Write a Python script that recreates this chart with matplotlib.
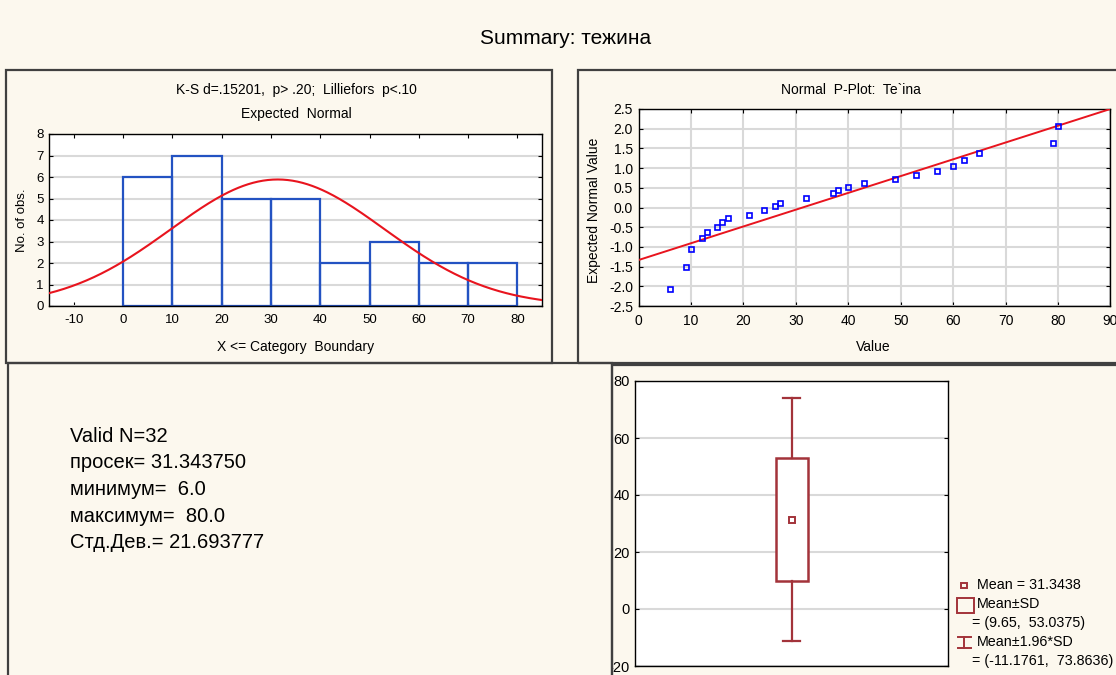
import numpy as np
import matplotlib
matplotlib.use("Agg")
import matplotlib.pyplot as plt
from matplotlib.patches import Rectangle

plt.rcParams['font.family'] = ['Liberation Sans', 'DejaVu Sans']
plt.rcParams['axes.unicode_minus'] = False

# ---------------- data ----------------
bin_left = [0, 10, 20, 30, 40, 50, 60, 70]
bin_counts = [6, 7, 5, 5, 2, 3, 2, 2]
hist_xticks = [-10, 0, 10, 20, 30, 40, 50, 60, 70, 80]

n_valid = 32
mean_val = 31.34375
sd_val = 21.693777
min_val = 6.0
max_val = 80.0

pp_values = [6, 9, 10, 12, 13, 15, 16, 17, 21, 24, 26, 27, 32, 37, 38, 40, 43,
             49, 53, 57, 60, 62, 65, 79, 80]
pp_expected = [-2.067, -1.507, -1.065, -0.769, -0.620, -0.485, -0.357, -0.275,
               -0.195, -0.072, 0.039, 0.117, 0.235, 0.357, 0.441, 0.529, 0.621,
               0.717, 0.823, 0.937, 1.065, 1.215, 1.395, 1.642, 2.067]
pp_line_intercept = -1.333
pp_line_slope = 0.0426

box_low, box_high = 9.65, 53.0375
whisk_low, whisk_high = -11.1761, 73.8636
box_yticks = [-20, 0, 20, 40, 60, 80]

W, H = 1116, 675
BG = '#FCF8EE'
BORDER = '#404040'
GRID = '#D9D9D9'
BLUE_BAR = '#2352C2'
RED = '#E8141E'
BOXC = '#A3333A'

fig = plt.figure(figsize=(W / 100, H / 100), dpi=100, facecolor=BG)


def fx(x):
    return x / W


def fy(y):
    return 1 - y / H


def ax_rect(l, t, r, b):
    return [fx(l), fy(b), (r - l) / W, (b - t) / H]


def panel(l, t, r, b, lw=1.6):
    p = Rectangle((fx(l), fy(b)), (r - l) / W, (b - t) / H, transform=fig.transFigure,
                  fill=False, edgecolor=BORDER, linewidth=lw, zorder=0.5)
    fig.patches.append(p)
    return p


# main title
fig.text(fx(566), fy(39), 'Summary: тежина', ha='center', va='center', fontsize=15)

# panels
panel(5.5, 70, 551.8, 362.7)
panel(577.5, 70, 1130, 362.7)
panel(8, 362.7, 612, 690)
p4 = panel(612, 364.5, 1130, 690)


def style_axes(ax):
    ax.set_facecolor('white')
    for s in ax.spines.values():
        s.set_color('black')
        s.set_linewidth(1.0)
    ax.tick_params(direction='in', length=3, width=0.8, top=True, right=True,
                   labelsize=10, colors='black', pad=4)
    ax.set_axisbelow(True)


# ---------------- histogram ----------------
ax1 = fig.add_axes(ax_rect(49.3, 134, 542.1, 306))
style_axes(ax1)
ax1.tick_params(labelsize=9.5)
ax1.bar(bin_left, bin_counts, width=10, align='edge', fill=False,
        edgecolor=BLUE_BAR, linewidth=1.6, zorder=2)
xs = np.linspace(-15, 85, 400)
ys = n_valid * 10 * np.exp(-0.5 * ((xs - mean_val) / sd_val) ** 2) / (sd_val * np.sqrt(2 * np.pi))
ax1.plot(xs, ys, color=RED, linewidth=1.5, zorder=3)
ax1.set_xlim(-15, 85)
ax1.set_ylim(0, 8)
ax1.set_xticks(hist_xticks)
ax1.set_yticks(range(0, 9))
ax1.yaxis.grid(True, color=GRID, linewidth=1.5)
ax1.tick_params(axis='x', pad=6)
fig.text(fx(296), fy(90), 'K-S d=.15201,  p> .20;  Lilliefors  p<.10', ha='center', va='center', fontsize=10)
fig.text(fx(296), fy(114), 'Expected  Normal', ha='center', va='center', fontsize=10)
fig.text(fx(296), fy(347), 'X <= Category  Boundary', ha='center', va='center', fontsize=10)
fig.text(fx(22), fy(220), 'No. of obs.', ha='center', va='center', rotation=90, fontsize=9.5)

# ---------------- normal P-plot ----------------
ax2 = fig.add_axes(ax_rect(638.6, 109, 1110.4, 306))
style_axes(ax2)
ax2.set_xlim(0, 90)
ax2.set_ylim(-2.5, 2.5)
ax2.set_xticks(range(0, 91, 10))
pp_yt = [-2.5, -2.0, -1.5, -1.0, -0.5, 0.0, 0.5, 1.0, 1.5, 2.0, 2.5]
ax2.set_yticks(pp_yt)
ax2.set_yticklabels(['%.1f' % v for v in pp_yt])
ax2.grid(True, color=GRID, linewidth=1.5)
ax2.tick_params(axis='x', pad=6)
lx = np.array([0, 90])
ax2.plot(lx, pp_line_intercept + pp_line_slope * lx, color=RED, linewidth=1.4, zorder=3)
ax2.plot(pp_values, pp_expected, linestyle='none', marker='s', markersize=3.6,
         markerfacecolor='none', markeredgecolor='#0000FF', markeredgewidth=1.2, zorder=4)
fig.text(fx(851), fy(90), 'Normal  P-Plot:  Te`ina', ha='center', va='center', fontsize=10)
fig.text(fx(873), fy(347), 'Value', ha='center', va='center', fontsize=10)
fig.text(fx(594), fy(210), 'Expected Normal Value', ha='center', va='center', rotation=90, fontsize=10)

# ---------------- text panel ----------------
lines = ['Valid N=%d' % n_valid,
         'просек= %.6f' % mean_val,
         'минимум=  %.1f' % min_val,
         'максимум=  %.1f' % max_val,
         'Стд.Дев.= %.6f' % sd_val]
line_y = [436, 462.7, 489.3, 516, 542.7]
for s, y in zip(lines, line_y):
    fig.text(fx(70), fy(y), s, ha='left', va='center', fontsize=14.5)

# ---------------- box plot ----------------
ax3 = fig.add_axes(ax_rect(635.3, 381, 948.3, 666))
style_axes(ax3)
ax3.tick_params(labelsize=10.5, top=False, bottom=False, labelbottom=False)
ax3.set_xlim(0, 1)
ax3.set_ylim(-20, 80)
ax3.set_yticks(box_yticks)
ax3.set_yticklabels([str(v) for v in box_yticks])
ax3.yaxis.grid(True, color=GRID, linewidth=1.5)
for lab in ax3.get_yticklabels():
    lab.set_clip_path(p4)
cx = 0.5
bw = 0.0506
cw = 0.0267
ax3.add_patch(Rectangle((cx - bw, box_low), 2 * bw, box_high - box_low, fill=True,
                        facecolor='white', edgecolor=BOXC, linewidth=1.8, zorder=3))
ax3.plot([cx, cx], [box_high, whisk_high], color=BOXC, linewidth=1.6, zorder=3)
ax3.plot([cx, cx], [whisk_low, box_low], color=BOXC, linewidth=1.6, zorder=3)
ax3.plot([cx - cw, cx + cw], [whisk_high, whisk_high], color=BOXC, linewidth=1.6, zorder=3)
ax3.plot([cx - cw, cx + cw], [whisk_low, whisk_low], color=BOXC, linewidth=1.6, zorder=3)
ax3.plot([cx], [mean_val], marker='s', markersize=4, markerfacecolor='none',
         markeredgecolor=BOXC, markeredgewidth=1.4, zorder=4)

# legend for box plot (figure coordinates)
fig.patches.append(Rectangle((fx(961), fy(588.3)), 5.5 / W, 5.5 / H, transform=fig.transFigure,
                             fill=False, edgecolor=BOXC, linewidth=1.4))
fig.patches.append(Rectangle((fx(957), fy(612.7)), 17.3 / W, 14.7 / H, transform=fig.transFigure,
                             fill=False, edgecolor=BOXC, linewidth=1.4))
fig.lines.append(plt.Line2D([fx(964), fx(964)], [fy(637), fy(647.5)], transform=fig.transFigure,
                            color=BOXC, linewidth=1.4))
fig.lines.append(plt.Line2D([fx(957.5), fx(970.5)], [fy(637), fy(637)], transform=fig.transFigure,
                            color=BOXC, linewidth=1.4))
fig.lines.append(plt.Line2D([fx(957.5), fx(970.5)], [fy(647.5), fy(647.5)], transform=fig.transFigure,
                            color=BOXC, linewidth=1.4))
leg_fs = 10.3
fig.text(fx(977), fy(585), 'Mean = 31.3438', ha='left', va='center', fontsize=leg_fs)
fig.text(fx(977), fy(603.5), 'Mean±SD', ha='left', va='center', fontsize=leg_fs)
fig.text(fx(971.5), fy(623), '= (9.65,  53.0375)', ha='left', va='center', fontsize=leg_fs)
fig.text(fx(977), fy(642.5), 'Mean±1.96*SD', ha='left', va='center', fontsize=leg_fs)
fig.text(fx(971.5), fy(661), '= (-11.1761,  73.8636)', ha='left', va='center', fontsize=leg_fs)

fig.savefig('out.png', dpi=100, facecolor=BG)
